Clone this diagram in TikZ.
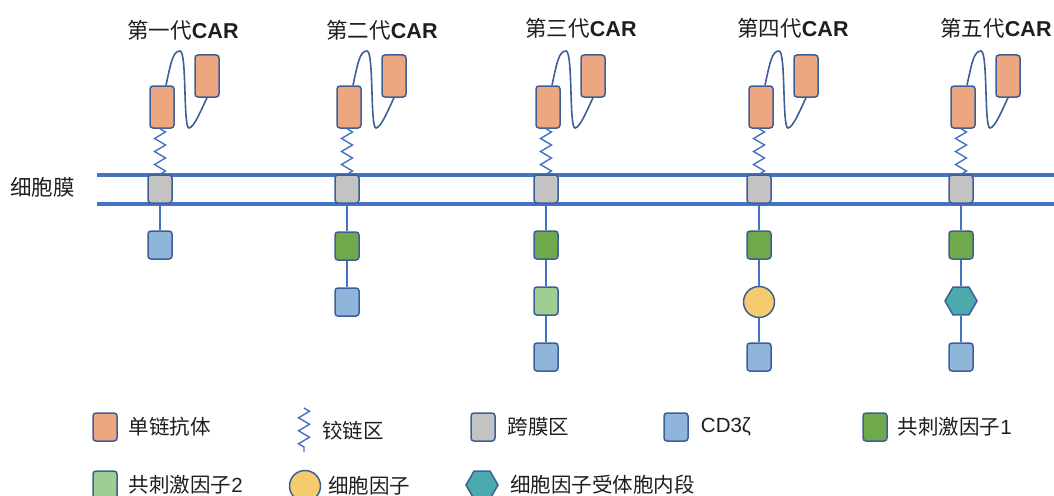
\documentclass[tikz,border=0pt]{standalone}
\usepackage{fontspec}
\setmainfont{Liberation Sans}
\newfontfamily\hei{Noto Sans CJK SC}
\usetikzlibrary{positioning}
\usetikzlibrary{shapes.geometric}
\usetikzlibrary{decorations.pathmorphing}
\definecolor{mline}{RGB}{68, 114, 196}
\definecolor{medge}{RGB}{62, 95, 150}
\definecolor{mscfv}{RGB}{236, 167, 128}
\definecolor{mtm}{RGB}{195, 195, 195}
\definecolor{mcdz}{RGB}{143, 181, 218}
\definecolor{mcoa}{RGB}{112, 168, 76}
\definecolor{mcob}{RGB}{160, 205, 145}
\definecolor{mcyto}{RGB}{245, 203, 110}
\definecolor{mrec}{RGB}{74, 170, 174}
\definecolor{mtext}{RGB}{30, 30, 30}
\tikzset{
  box/.style = {draw = medge, line width = 1.5pt, rounded corners = 3pt,
    minimum width = 24pt, minimum height = 28pt, inner sep = 0},
  scfv/.style = {box, fill = mscfv, minimum height = 42pt},
  tm/.style = {box, fill = mtm},
  cdz/.style = {box, fill = mcdz},
  coa/.style = {box, fill = mcoa},
  cob/.style = {box, fill = mcob},
  cyto/.style = {draw = medge, line width = 1.5pt, fill = mcyto, circle,
    minimum size = 31pt, inner sep = 0},
  rec/.style = {draw = medge, line width = 1.5pt, fill = mrec,
    regular polygon, regular polygon sides = 6, minimum size = 32pt, inner sep = 0},
  title/.style = {text = mtext, font = \fontsize{21.5}{25}\selectfont},
  legtext/.style = {text = mtext, font = \fontsize{20.5}{24}\selectfont, inner sep = 0},
  membrane/.style = {mline, line width = 3.5pt},
  link/.style = {mline, line width = 2.6pt},
  hinge/.style = {mline, line width = 1.4pt, decorate,
    decoration = {zigzag, segment length = 13pt, amplitude = 5.5pt}},
  linker/.style = {medge, line width = 1.6pt}
}

\begin{document}
\begin{tikzpicture}[x=1pt, y=-1pt]
  \useasboundingbox (0, 0) rectangle (1054, 495);

  % membrane
  \draw [membrane] (97, 175) -- (1054, 175);
  \draw [membrane] (97, 204) -- (1054, 204);
  \node [title, anchor = west, inner sep = 0] (memb) at (10, 187) {\hei 细胞膜};

  % first generation
  \begin{scope}[shift={(160, 0)}]
    \node [title] (t1) at (23, 30) {{\hei 第一代}\textbf{CAR}};
    \node [scfv] (vl1) at (2, 107) {};
    \node [scfv] (vh1) at (47, 76) {};
    \node [tm] (tm1) at (0, 189) {};
    \draw [hinge] (tm1.north |- vl1.south) -- (tm1.north);
    \draw [linker] ([xshift=4pt]vl1.north) .. controls (11, 62) and (13, 51) .. (20, 51)
      .. controls (27, 51) and (23, 128) .. (29, 128)
      .. controls (34, 128) and (42, 108) .. (vh1.south);
    \node [cdz] (z1) at (0, 245) {};
    \draw [link] (tm1) -- (z1);
  \end{scope}

  % second generation
  \begin{scope}[shift={(347, 0)}]
    \node [title] (t2) at (35, 30) {{\hei 第二代}\textbf{CAR}};
    \node [scfv] (vl2) at (2, 107) {};
    \node [scfv] (vh2) at (47, 76) {};
    \node [tm] (tm2) at (0, 189) {};
    \draw [hinge] (tm2.north |- vl2.south) -- (tm2.north);
    \draw [linker] ([xshift=4pt]vl2.north) .. controls (11, 62) and (13, 51) .. (20, 51)
      .. controls (27, 51) and (23, 128) .. (29, 128)
      .. controls (34, 128) and (42, 108) .. (vh2.south);
    \node [coa] (a2) at (0, 246) {};
    \node [cdz] (z2) at (0, 302) {};
    \draw [link] (tm2) -- (a2);
    \draw [link] (a2) -- (z2);
  \end{scope}

  % third generation
  \begin{scope}[shift={(546, 0)}]
    \node [title] (t3) at (35, 28) {{\hei 第三代}\textbf{CAR}};
    \node [scfv] (vl3) at (2, 107) {};
    \node [scfv] (vh3) at (47, 76) {};
    \node [tm] (tm3) at (0, 189) {};
    \draw [hinge] (tm3.north |- vl3.south) -- (tm3.north);
    \draw [linker] ([xshift=4pt]vl3.north) .. controls (11, 62) and (13, 51) .. (20, 51)
      .. controls (27, 51) and (23, 128) .. (29, 128)
      .. controls (34, 128) and (42, 108) .. (vh3.south);
    \node [coa] (a3) at (0, 245) {};
    \node [cob] (b3) at (0, 301) {};
    \node [cdz] (z3) at (0, 357) {};
    \draw [link] (tm3) -- (a3);
    \draw [link] (a3) -- (b3);
    \draw [link] (b3) -- (z3);
  \end{scope}

  % fourth generation
  \begin{scope}[shift={(759, 0)}]
    \node [title] (t4) at (34, 28) {{\hei 第四代}\textbf{CAR}};
    \node [scfv] (vl4) at (2, 107) {};
    \node [scfv] (vh4) at (47, 76) {};
    \node [tm] (tm4) at (0, 189) {};
    \draw [hinge] (tm4.north |- vl4.south) -- (tm4.north);
    \draw [linker] ([xshift=4pt]vl4.north) .. controls (11, 62) and (13, 51) .. (20, 51)
      .. controls (27, 51) and (23, 128) .. (29, 128)
      .. controls (34, 128) and (42, 108) .. (vh4.south);
    \node [coa] (a4) at (0, 245) {};
    \node [cyto] (c4) at (0, 302) {};
    \node [cdz] (z4) at (0, 357) {};
    \draw [link] (tm4) -- (a4);
    \draw [link] (a4) -- (c4);
    \draw [link] (c4) -- (z4);
  \end{scope}

  % fifth generation
  \begin{scope}[shift={(961, 0)}]
    \node [title] (t5) at (35, 28) {{\hei 第五代}\textbf{CAR}};
    \node [scfv] (vl5) at (2, 107) {};
    \node [scfv] (vh5) at (47, 76) {};
    \node [tm] (tm5) at (0, 189) {};
    \draw [hinge] (tm5.north |- vl5.south) -- (tm5.north);
    \draw [linker] ([xshift=4pt]vl5.north) .. controls (11, 62) and (13, 51) .. (20, 51)
      .. controls (27, 51) and (23, 128) .. (29, 128)
      .. controls (34, 128) and (42, 108) .. (vh5.south);
    \node [coa] (a5) at (0, 245) {};
    \node [rec] (r5) at (0, 301) {};
    \node [cdz] (z5) at (0, 357) {};
    \draw [link] (tm5) -- (a5);
    \draw [link] (a5) -- (r5);
    \draw [link] (r5) -- (z5);
  \end{scope}

  % legend
  \node [box, fill = mscfv] (kscfv) at (105, 427) {};
  \node [legtext, right = 11pt of kscfv] (lscfv) {\hei 单链抗体};
  \coordinate (khtop) at (304, 408);
  \coordinate (khbot) at (304, 452);
  \draw [hinge] (khtop) -- (khbot);
  \node [legtext, anchor = west] (lhinge) at (322, 431) {\hei 铰链区};
  \node [tm] (ktm) at (483, 427) {};
  \node [legtext, right = 12pt of ktm] (ltm) {\hei 跨膜区};
  \node [cdz] (kcdz) at (676, 427) {};
  \node [legtext, right = 12pt of kcdz] (lcdz) {CD3ζ};
  \node [coa] (kcoa) at (875, 427) {};
  \node [legtext, right = 10pt of kcoa] (lcoa) {{\hei 共刺激因子}1};

  \node [cob] (kcob) at (105, 485) {};
  \node [legtext, right = 11pt of kcob] (lcob) {{\hei 共刺激因子}2};
  \node [cyto] (kcyto) at (305, 486) {};
  \node [legtext, right = 7pt of kcyto] (lcyto) {\hei 细胞因子};
  \node [rec] (krec) at (482, 485) {};
  \node [legtext, right = 11pt of krec] (lrec) {\hei 细胞因子受体胞内段};
\end{tikzpicture}
\end{document}
